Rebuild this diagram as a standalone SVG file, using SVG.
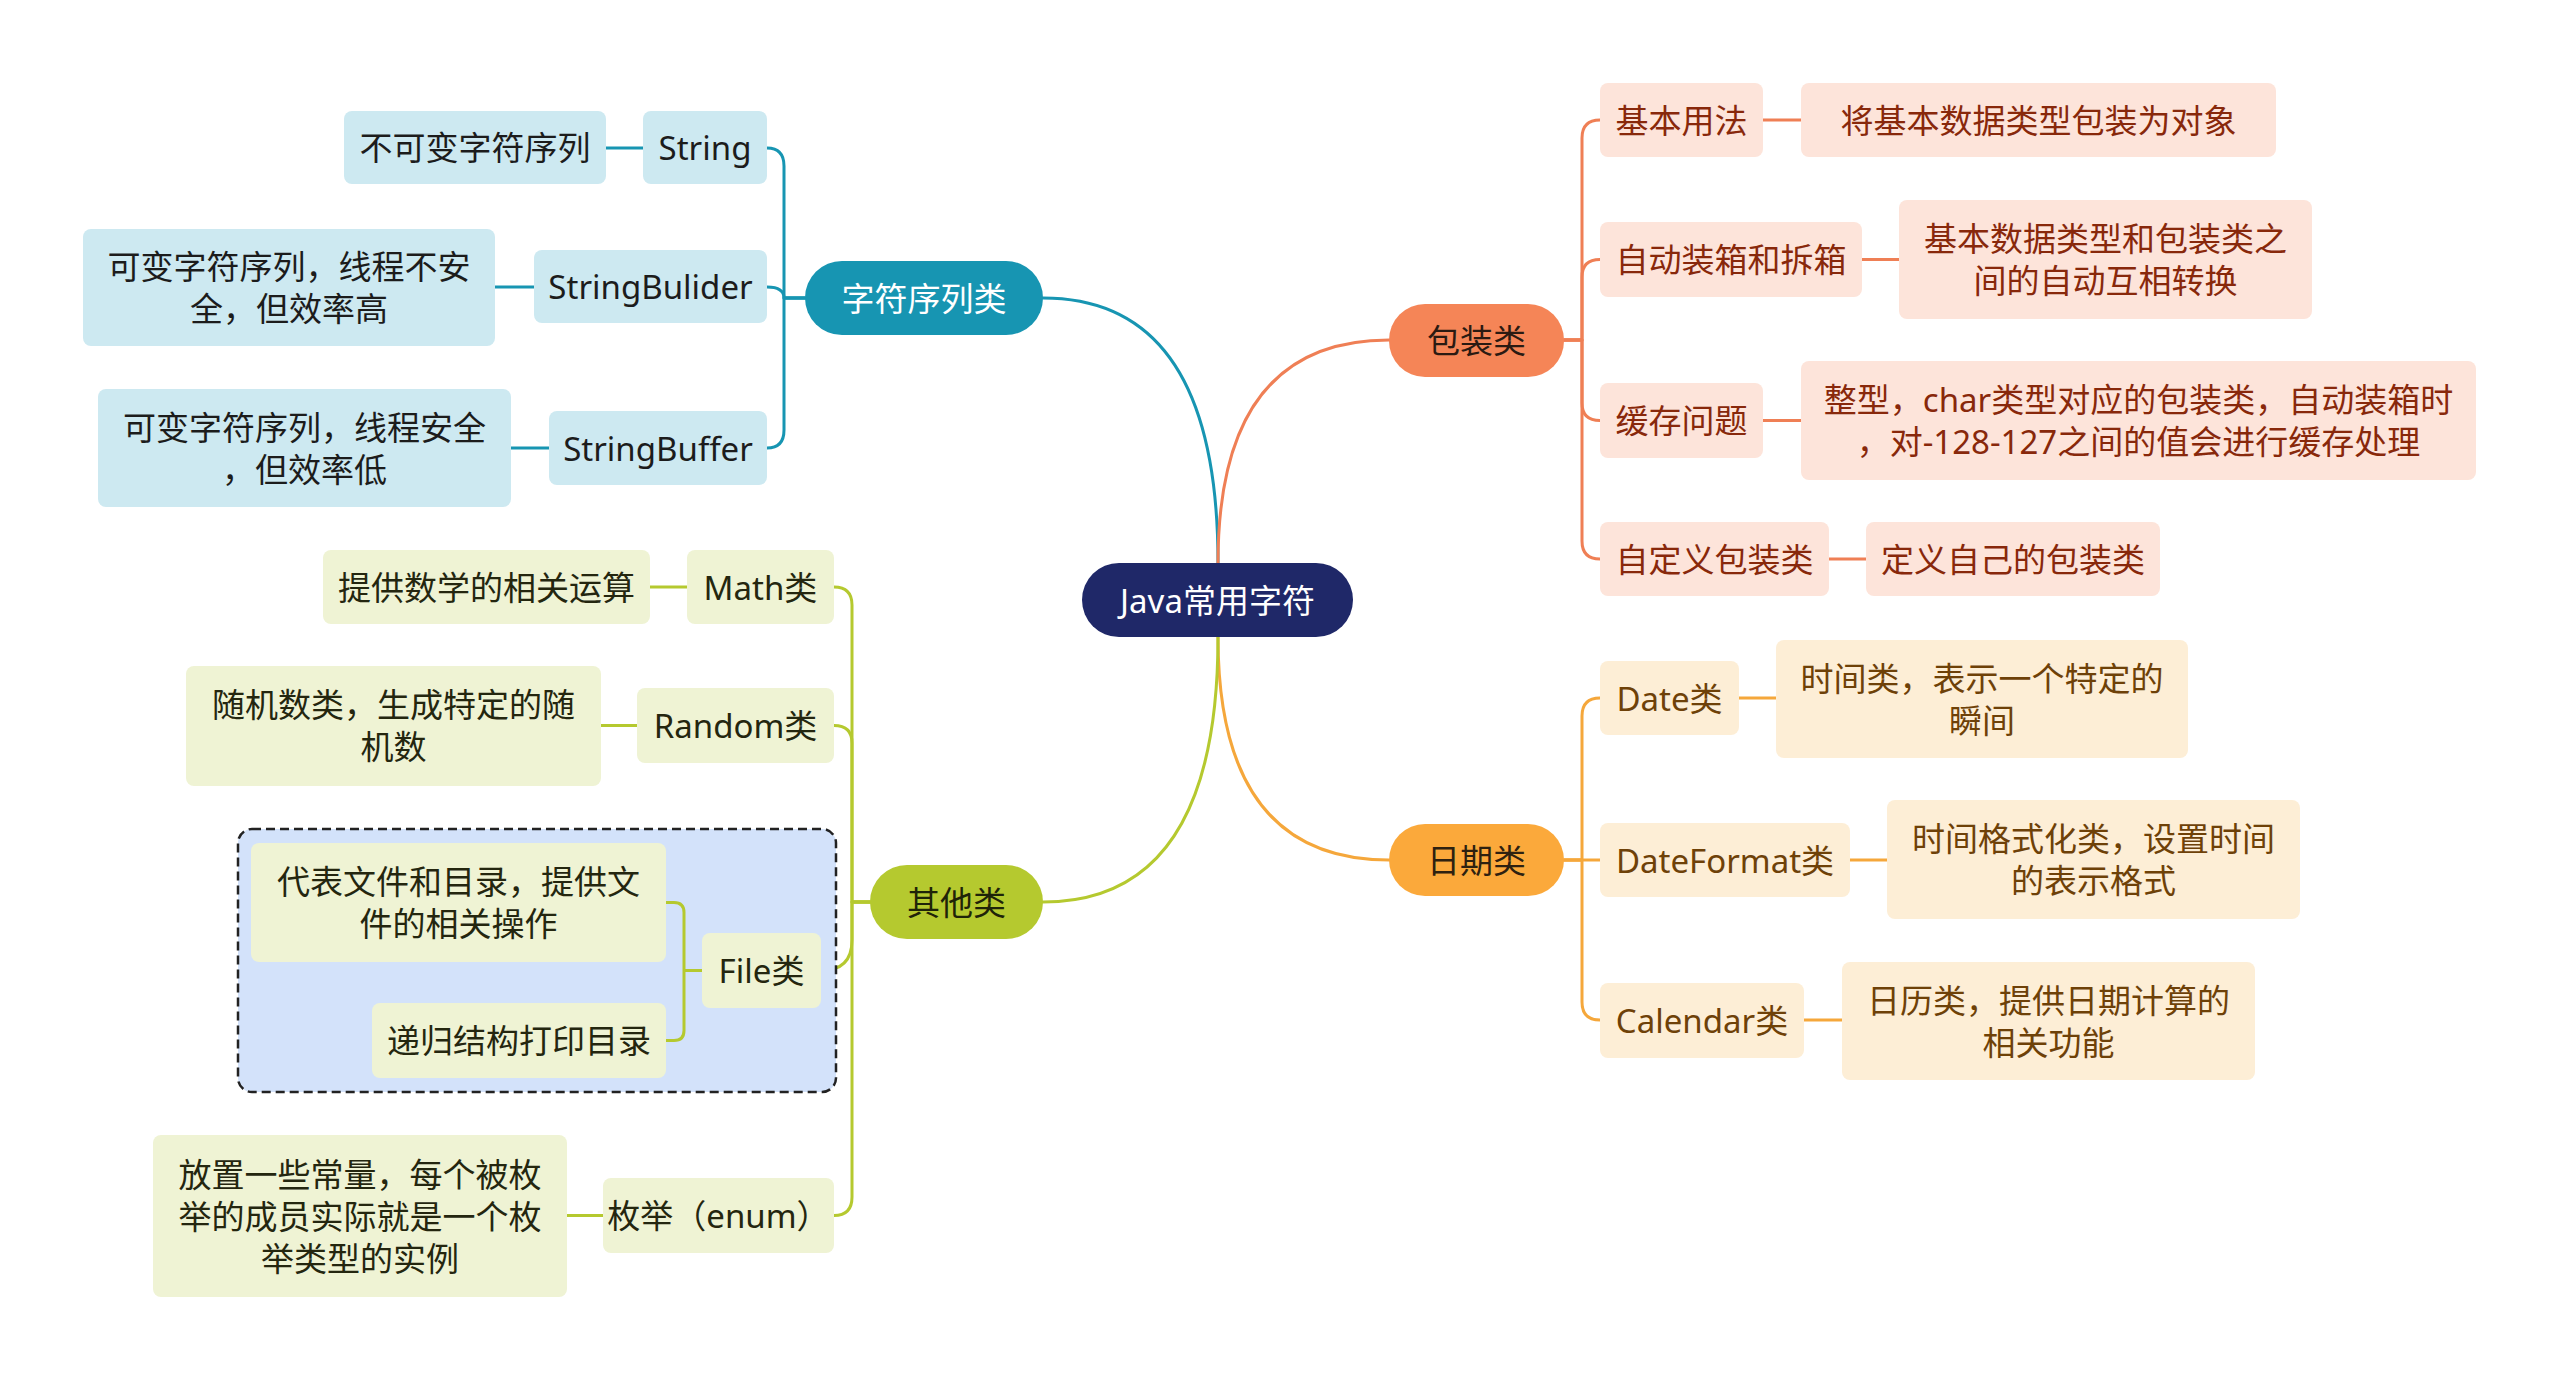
<svg xmlns="http://www.w3.org/2000/svg" width="2560" height="1380" viewBox="0 0 2560 1380">
<style>
text{font-family:"Noto Sans","Noto Sans CJK SC",sans-serif;font-size:33px;text-anchor:middle;dominant-baseline:central}
.c{fill:none;stroke-width:3;stroke-linecap:round;stroke-linejoin:round}
.teal{stroke:#1795b2}.org{stroke:#ef7f55}.date{stroke:#f5a73b}.oth{stroke:#b5c92f}
.bt{fill:#cde9f1}.bo{fill:#fde4da}.bd{fill:#fdeed6}.bg{fill:#eff3d4}
.tt{fill:#1c1c1c}.to{fill:#88280b}.td{fill:#6e4108}.tg{fill:#24260f}
</style>
<rect width="2560" height="1380" fill="#ffffff"/>
<g id="connectors">
<path class="c teal" d="M1218 563 Q1218 298 1043 298"/>
<path class="c org" d="M1218 563 Q1218 340 1389 340"/>
<path class="c date" d="M1218 637 Q1218 860 1389 860"/>
<path class="c oth" d="M1218 637 Q1218 902 1043 902"/>
<path class="c teal" d="M805 298 H784 V166 Q784 148 767 148"/>
<path class="c teal" d="M805 298 H784 Q784 287 767 287"/>
<path class="c teal" d="M805 298 H784 V430 Q784 448 767 448"/>
<path class="c teal" d="M606 148 H643"/>
<path class="c teal" d="M495 287 H534"/>
<path class="c teal" d="M511 448 H549"/>
<path class="c org" d="M1564 340 H1582 V138 Q1582 120 1600 120"/>
<path class="c org" d="M1564 340 H1582 V277 Q1582 259.5 1600 259.5"/>
<path class="c org" d="M1564 340 H1582 V403 Q1582 420.5 1600 420.5"/>
<path class="c org" d="M1564 340 H1582 V541 Q1582 559 1600 559"/>
<path class="c org" d="M1763 120 H1801"/>
<path class="c org" d="M1862 259.5 H1899"/>
<path class="c org" d="M1763 420.5 H1801"/>
<path class="c org" d="M1829 559 H1866"/>
<path class="c date" d="M1564 860 H1582 V716 Q1582 698 1600 698"/>
<path class="c date" d="M1564 860 H1600"/>
<path class="c date" d="M1564 860 H1582 V1002 Q1582 1020 1600 1020"/>
<path class="c date" d="M1739 698 H1776"/>
<path class="c date" d="M1850 860 H1887"/>
<path class="c date" d="M1804 1020 H1842"/>
<path class="c oth" d="M870 902 H852 V605 Q852 587 834 587"/>
<path class="c oth" d="M870 902 H852 V743 Q852 725.5 834 725.5"/>
<path class="c oth" d="M870 902 H852 V940 Q852 970.5 821 970.5"/>
<path class="c oth" d="M870 902 H852 V1197 Q852 1215.5 834 1215.5"/>
<path class="c oth" d="M650 587 H687"/>
<path class="c oth" d="M601 725.5 H637"/>
<path class="c oth" d="M567 1215.5 H603"/>
</g>
<g id="file-group">
<rect x="238" y="829" width="598" height="263" rx="14" fill="#d3e2fa" stroke="#222222" stroke-width="2.5" stroke-dasharray="9 5"/>
<path class="c oth" d="M666 902.5 H674 Q684 902.5 684 912.5 V1030.5 Q684 1040.5 674 1040.5 H666 M684 970.5 H702"/>
</g>
<g id="root">
<rect x="1082" y="563" width="271" height="74" rx="37" fill="#1f2868"/>
<text x="1217.5" y="600" fill="#ffffff">Java常用字符</text>
</g>
<g id="n-zifu">
<rect x="805" y="261" width="238" height="74" rx="37" fill="#1795b2"/>
<text x="924" y="298" fill="#ffffff">字符序列类</text>
</g>
<g id="n-baozhuang">
<rect x="1389" y="304" width="175" height="73" rx="36" fill="#f58557"/>
<text x="1476.5" y="340.5" fill="#2b1a12">包装类</text>
</g>
<g id="n-riqi">
<rect x="1389" y="824" width="175" height="72" rx="36" fill="#fba93b"/>
<text x="1476.5" y="860" fill="#2e2110">日期类</text>
</g>
<g id="n-qita">
<rect x="870" y="865" width="173" height="74" rx="37" fill="#b5c92f"/>
<text x="956.5" y="902" fill="#1f2408">其他类</text>
</g>
<g id="n-string">
<rect class="bt" x="643" y="111" width="124" height="73" rx="8"/>
<text class="tt" x="705" y="147.5">String</text>
</g>
<g id="n-string-d">
<rect class="bt" x="344" y="111" width="262" height="73" rx="8"/>
<text class="tt" x="475" y="147.5">不可变字符序列</text>
</g>
<g id="n-sbuilder">
<rect class="bt" x="534" y="250" width="233" height="73" rx="8"/>
<text class="tt" x="650.5" y="286.5">StringBulider</text>
</g>
<g id="n-sbuilder-d">
<rect class="bt" x="83" y="229" width="412" height="117" rx="8"/>
<text class="tt" x="289" y="266">可变字符序列，线程不安</text>
<text class="tt" x="289" y="308">全，但效率高</text>
</g>
<g id="n-sbuffer">
<rect class="bt" x="549" y="411" width="218" height="74" rx="8"/>
<text class="tt" x="658" y="448">StringBuffer</text>
</g>
<g id="n-sbuffer-d">
<rect class="bt" x="98" y="389" width="413" height="118" rx="8"/>
<text class="tt" x="304.5" y="427">可变字符序列，线程安全</text>
<text class="tt" x="304.5" y="469">，但效率低</text>
</g>
<g id="n-jiben">
<rect class="bo" x="1600" y="83" width="163" height="74" rx="8"/>
<text class="to" x="1681.5" y="120">基本用法</text>
</g>
<g id="n-jiben-d">
<rect class="bo" x="1801" y="83" width="475" height="74" rx="8"/>
<text class="to" x="2038.5" y="120">将基本数据类型包装为对象</text>
</g>
<g id="n-zidong">
<rect class="bo" x="1600" y="222" width="262" height="75" rx="8"/>
<text class="to" x="1731" y="259.5">自动装箱和拆箱</text>
</g>
<g id="n-zidong-d">
<rect class="bo" x="1899" y="200" width="413" height="119" rx="8"/>
<text class="to" x="2105.5" y="238.5">基本数据类型和包装类之</text>
<text class="to" x="2105.5" y="280.5">间的自动互相转换</text>
</g>
<g id="n-huancun">
<rect class="bo" x="1600" y="383" width="163" height="75" rx="8"/>
<text class="to" x="1681.5" y="420.5">缓存问题</text>
</g>
<g id="n-huancun-d">
<rect class="bo" x="1801" y="361" width="675" height="119" rx="8"/>
<text class="to" x="2138.5" y="399.5">整型，char类型对应的包装类，自动装箱时</text>
<text class="to" x="2138.5" y="441.5">，对-128-127之间的值会进行缓存处理</text>
</g>
<g id="n-zidingyi">
<rect class="bo" x="1600" y="522" width="229" height="74" rx="8"/>
<text class="to" x="1714.5" y="559">自定义包装类</text>
</g>
<g id="n-zidingyi-d">
<rect class="bo" x="1866" y="522" width="294" height="74" rx="8"/>
<text class="to" x="2013" y="559">定义自己的包装类</text>
</g>
<g id="n-date">
<rect class="bd" x="1600" y="661" width="139" height="74" rx="8"/>
<text class="td" x="1669.5" y="698">Date类</text>
</g>
<g id="n-date-d">
<rect class="bd" x="1776" y="640" width="412" height="118" rx="8"/>
<text class="td" x="1982" y="678">时间类，表示一个特定的</text>
<text class="td" x="1982" y="720">瞬间</text>
</g>
<g id="n-dateformat">
<rect class="bd" x="1600" y="823" width="250" height="74" rx="8"/>
<text class="td" x="1725" y="860">DateFormat类</text>
</g>
<g id="n-dateformat-d">
<rect class="bd" x="1887" y="800" width="413" height="119" rx="8"/>
<text class="td" x="2093.5" y="838.5">时间格式化类，设置时间</text>
<text class="td" x="2093.5" y="880.5">的表示格式</text>
</g>
<g id="n-calendar">
<rect class="bd" x="1600" y="983" width="204" height="75" rx="8"/>
<text class="td" x="1702" y="1020.5">Calendar类</text>
</g>
<g id="n-calendar-d">
<rect class="bd" x="1842" y="962" width="413" height="118" rx="8"/>
<text class="td" x="2048.5" y="1000">日历类，提供日期计算的</text>
<text class="td" x="2048.5" y="1042">相关功能</text>
</g>
<g id="n-math">
<rect class="bg" x="687" y="550" width="147" height="74" rx="8"/>
<text class="tg" x="760.5" y="587">Math类</text>
</g>
<g id="n-math-d">
<rect class="bg" x="323" y="550" width="327" height="74" rx="8"/>
<text class="tg" x="486.5" y="587">提供数学的相关运算</text>
</g>
<g id="n-random">
<rect class="bg" x="637" y="688" width="197" height="75" rx="8"/>
<text class="tg" x="735.5" y="725.5">Random类</text>
</g>
<g id="n-random-d">
<rect class="bg" x="186" y="666" width="415" height="120" rx="8"/>
<text class="tg" x="393.5" y="704.5">随机数类，生成特定的随</text>
<text class="tg" x="393.5" y="746.5">机数</text>
</g>
<g id="n-file">
<rect class="bg" x="702" y="933" width="119" height="75" rx="8"/>
<text class="tg" x="761.5" y="970.5">File类</text>
</g>
<g id="n-file-d1">
<rect class="bg" x="251" y="843" width="415" height="119" rx="8"/>
<text class="tg" x="458.5" y="881.5">代表文件和目录，提供文</text>
<text class="tg" x="458.5" y="923.5">件的相关操作</text>
</g>
<g id="n-file-d2">
<rect class="bg" x="372" y="1003" width="294" height="75" rx="8"/>
<text class="tg" x="519" y="1040.5">递归结构打印目录</text>
</g>
<g id="n-enum">
<rect class="bg" x="603" y="1178" width="231" height="75" rx="8"/>
<text class="tg" x="718.5" y="1215.5">枚举（enum）</text>
</g>
<g id="n-enum-d">
<rect class="bg" x="153" y="1135" width="414" height="162" rx="8"/>
<text class="tg" x="360" y="1174">放置一些常量，每个被枚</text>
<text class="tg" x="360" y="1216">举的成员实际就是一个枚</text>
<text class="tg" x="360" y="1258">举类型的实例</text>
</g>
</svg>
